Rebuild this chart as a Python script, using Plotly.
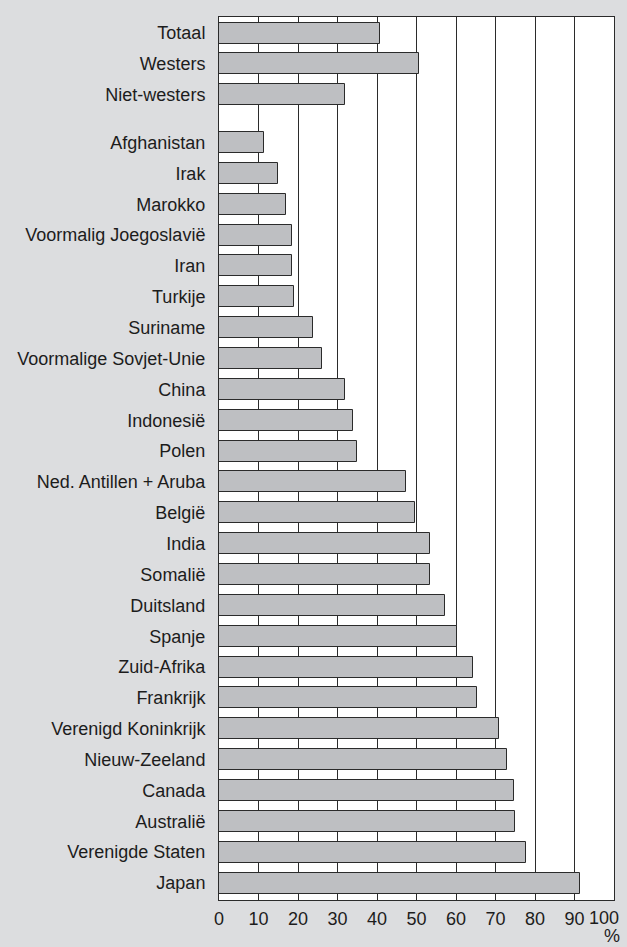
import plotly.graph_objects as go

# aandeel (%) per herkomstgroep
LANDEN = [
    "Totaal", "Westers", "Niet-westers",
    "Afghanistan", "Irak", "Marokko", "Voormalig Joegoslavië", "Iran",
    "Turkije", "Suriname", "Voormalige Sovjet-Unie", "China", "Indonesië",
    "Polen", "Ned. Antillen + Aruba", "België", "India", "Somalië",
    "Duitsland", "Spanje", "Zuid-Afrika", "Frankrijk", "Verenigd Koninkrijk",
    "Nieuw-Zeeland", "Canada", "Australië", "Verenigde Staten", "Japan",
]
WAARDEN = [
    40.8, 50.7, 32.0,
    11.5, 14.9, 16.9, 18.6, 18.6,
    19.1, 23.8, 26.2, 32.0, 33.9,
    34.9, 47.3, 49.7, 53.5, 53.5,
    57.3, 60.2, 64.3, 65.3, 70.9,
    73.0, 74.8, 74.9, 77.6, 91.5,
]
X_TICKS = list(range(0, 101, 10))

ACHTERGROND = "#dcdddf"
BALK = "#bebfc2"
LIJN = "#2b2b2b"
TEKST = "#1c1c1c"
FONT = "Liberation Sans, Arial, sans-serif"

# witruimte na de eerste drie groepen (in balkhoogtes)
EXTRA_GAT = 0.55
posities = [i if i < 3 else i + EXTRA_GAT for i in range(len(LANDEN))]

fig = go.Figure()
fig.add_trace(go.Bar(
    x=WAARDEN, y=posities, orientation="h", width=0.68,
    marker=dict(color=BALK, line=dict(color=LIJN, width=1)),
    hovertemplate="%{customdata}: %{x}%<extra></extra>",
    customdata=LANDEN,
))

fig.update_layout(
    width=627, height=947,
    paper_bgcolor=ACHTERGROND, plot_bgcolor="white",
    margin=dict(l=219, r=13, t=17, b=47),
    font=dict(family=FONT, size=18, color=TEKST),
    showlegend=False, bargap=0,
)
# laatste label (100) staat in het origineel iets naar links, zie annotatie
fig.update_xaxes(
    range=[0, 100], tickvals=X_TICKS,
    ticktext=[str(t) for t in X_TICKS[:-1]] + [""],
    showgrid=True, gridcolor=LIJN, gridwidth=1,
    showline=True, linecolor=LIJN, linewidth=1, mirror=True,
    ticks="", ticklabelstandoff=2, ticklabeloverflow="allow",
    automargin=False, zeroline=False, fixedrange=True,
)
fig.update_yaxes(
    range=[len(LANDEN) - 1 + EXTRA_GAT + 0.55, -0.52],
    tickvals=posities, ticktext=LANDEN,
    showgrid=False, showline=True, linecolor=LIJN, linewidth=1, mirror=True,
    ticks="", ticklabelstandoff=9, automargin=False,
    zeroline=False, fixedrange=True,
)
fig.add_annotation(
    text=str(X_TICKS[-1]), xref="x", yref="paper", x=X_TICKS[-1], y=0,
    xanchor="right", yanchor="top", xshift=7, yshift=-6, showarrow=False,
    font=dict(family=FONT, size=18, color=TEKST),
)
fig.add_annotation(
    text="%", xref="paper", yref="paper", x=1.02, y=-0.027,
    xanchor="right", yanchor="top", showarrow=False,
    font=dict(family=FONT, size=18, color=TEKST),
)

# geen standaard body-marge van de browser
fig.write_html("out.html", config={"displayModeBar": False},
               post_script="document.body.style.margin='0';")
